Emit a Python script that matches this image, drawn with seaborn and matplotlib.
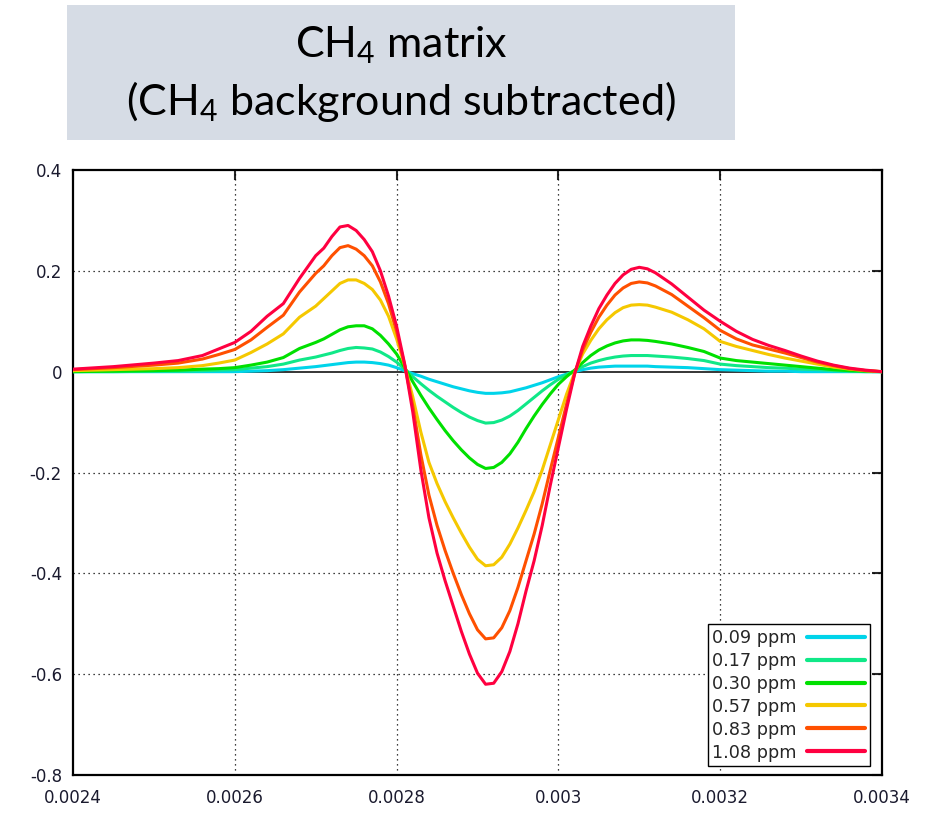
import pandas as pd
import matplotlib.pyplot as plt
import seaborn as sns
from matplotlib.patches import Rectangle

# Dados
x_vals = [0.00240, 0.00245, 0.00250, 0.00253, 0.00256, 0.00258, 0.00260, 0.00262,
          0.00264, 0.00266, 0.00268,
          0.00270, 0.00271, 0.00272, 0.00273, 0.00274, 0.00275, 0.00276, 0.00277,
          0.00278, 0.00279, 0.00280, 0.00281, 0.00282, 0.00283, 0.00284, 0.00285,
          0.00286, 0.00287, 0.00288, 0.00289, 0.00290, 0.00291, 0.00292, 0.00293,
          0.00294, 0.00295, 0.00296, 0.00297, 0.00298, 0.00299, 0.00300, 0.00301,
          0.00302, 0.00303, 0.00304, 0.00305, 0.00306, 0.00307, 0.00308, 0.00309,
          0.00310, 0.00311, 0.00312,
          0.00314, 0.00316, 0.00318, 0.00320, 0.00322, 0.00324, 0.00326, 0.00328,
          0.00330, 0.00332, 0.00334, 0.00336, 0.00338, 0.00340]

ppm_009 = [0.0, 0.0, 0.0, 0.0, 0.0, 0.0, 0.0, 0.001,
           0.002, 0.004, 0.007,
           0.010, 0.012, 0.014, 0.016, 0.018, 0.019, 0.019, 0.018,
           0.016, 0.013, 0.008, 0.002, -0.004, -0.009, -0.015, -0.020,
           -0.025, -0.030, -0.034, -0.038, -0.041, -0.043, -0.043, -0.042,
           -0.040, -0.036, -0.032, -0.027, -0.022, -0.016, -0.010, -0.005,
           0.0, 0.004, 0.007, 0.009, 0.010, 0.011, 0.011, 0.011,
           0.011, 0.011, 0.010,
           0.009, 0.008, 0.006, 0.004, 0.003, 0.002, 0.001, 0.001,
           0.0, 0.0, 0.0, 0.0, 0.0, 0.0]

ppm_017 = [0.0, 0.0, 0.001, 0.001, 0.002, 0.003, 0.004, 0.007,
           0.010, 0.015, 0.023,
           0.029, 0.033, 0.037, 0.042, 0.046, 0.048, 0.047, 0.045,
           0.039, 0.030, 0.019, 0.005, -0.010, -0.024, -0.037, -0.049,
           -0.060, -0.071, -0.081, -0.090, -0.097, -0.102, -0.101, -0.096,
           -0.088, -0.077, -0.064, -0.051, -0.038, -0.026, -0.015, -0.006,
           0.002, 0.010, 0.017, 0.022, 0.026, 0.029, 0.031, 0.032,
           0.032, 0.032, 0.031,
           0.029, 0.026, 0.022, 0.015, 0.012, 0.010, 0.008, 0.007,
           0.005, 0.004, 0.002, 0.001, 0.0, 0.0]

ppm_030 = [0.0, 0.001, 0.002, 0.003, 0.005, 0.006, 0.008, 0.013,
           0.019, 0.028, 0.046,
           0.058, 0.065, 0.074, 0.083, 0.089, 0.091, 0.091, 0.085,
           0.072, 0.055, 0.035, 0.008, -0.020, -0.047, -0.072, -0.095,
           -0.117, -0.137, -0.155, -0.171, -0.184, -0.192, -0.190, -0.180,
           -0.163, -0.140, -0.113, -0.088, -0.065, -0.044, -0.025, -0.010,
           0.003, 0.018, 0.032, 0.043, 0.051, 0.057, 0.061, 0.063,
           0.063, 0.062, 0.060,
           0.055, 0.048, 0.040, 0.027, 0.022, 0.019, 0.016, 0.013,
           0.010, 0.007, 0.004, 0.002, 0.001, 0.0]

ppm_057 = [0.002, 0.004, 0.006, 0.008, 0.012, 0.017, 0.023, 0.038,
           0.055, 0.075, 0.108,
           0.130, 0.145, 0.160, 0.175, 0.182, 0.182, 0.175, 0.163,
           0.142, 0.110, 0.065, 0.012, -0.050, -0.120, -0.180, -0.222,
           -0.258, -0.290, -0.320, -0.348, -0.372, -0.385, -0.383, -0.368,
           -0.342, -0.310, -0.275, -0.238, -0.195, -0.145, -0.095, -0.045,
           -0.002, 0.035, 0.062, 0.085, 0.103, 0.117, 0.127, 0.132,
           0.133, 0.132, 0.128,
           0.118, 0.103, 0.085, 0.060, 0.050, 0.042, 0.034, 0.027,
           0.021, 0.015, 0.009, 0.005, 0.002, 0.0]

ppm_083 = [0.004, 0.008, 0.013, 0.017, 0.025, 0.034, 0.044, 0.063,
           0.088, 0.112, 0.158,
           0.195, 0.210, 0.230, 0.246, 0.250, 0.243, 0.230, 0.210,
           0.178, 0.135, 0.080, 0.013, -0.068, -0.165, -0.245, -0.305,
           -0.355, -0.400, -0.442, -0.480, -0.512, -0.530, -0.528, -0.508,
           -0.474, -0.428, -0.375, -0.322, -0.262, -0.195, -0.130, -0.065,
           -0.004, 0.043, 0.078, 0.108, 0.132, 0.152, 0.166, 0.175,
           0.178, 0.176, 0.170,
           0.153, 0.130, 0.107, 0.082, 0.065, 0.053, 0.045, 0.037,
           0.028, 0.019, 0.012, 0.006, 0.002, 0.0]

ppm_108 = [0.005, 0.010, 0.017, 0.022, 0.032, 0.045, 0.058, 0.080,
           0.110, 0.135, 0.185,
           0.230, 0.245, 0.268, 0.287, 0.290, 0.280, 0.262, 0.238,
           0.200, 0.150, 0.090, 0.015, -0.080, -0.195, -0.290, -0.360,
           -0.415, -0.465, -0.515, -0.560, -0.598, -0.620, -0.618, -0.595,
           -0.555, -0.500, -0.435, -0.375, -0.305, -0.225, -0.150, -0.075,
           -0.005, 0.050, 0.090, 0.125, 0.152, 0.175, 0.192, 0.203,
           0.207, 0.204, 0.196,
           0.174, 0.148, 0.122, 0.100, 0.080, 0.064, 0.052, 0.042,
           0.031, 0.021, 0.013, 0.007, 0.003, 0.0]

labels = ['0.09 ppm', '0.17 ppm', '0.30 ppm', '0.57 ppm', '0.83 ppm', '1.08 ppm']
series = [ppm_009, ppm_017, ppm_030, ppm_057, ppm_083, ppm_108]
colors = ['#00d4ea', '#10e888', '#00e000', '#f5c800', '#ff5000', '#ff0040']

x_ticks = [0.0024, 0.0026, 0.0028, 0.0030, 0.0032, 0.0034]
x_ticklabels = ['0.0024', '0.0026', '0.0028', '0.003', '0.0032', '0.0034']
y_ticks = [0.4, 0.2, 0.0, -0.2, -0.4, -0.6, -0.8]
y_ticklabels = ['0.4', '0.2', '0', '-0.2', '-0.4', '-0.6', '-0.8']

df = pd.concat([pd.DataFrame({'x': x_vals, 'y': s, 'conc': lab})
                for s, lab in zip(series, labels)], ignore_index=True)

# Estilo
sns.set_style("white")
plt.rcParams['font.family'] = ['DejaVu Sans']
plt.rcParams['mathtext.fontset'] = 'custom'
plt.rcParams['mathtext.rm'] = 'Lato'

fig = plt.figure(figsize=(9.36, 8.13), dpi=100)
ax = fig.add_axes([73 / 936, 38 / 813, 809 / 936, 605 / 813])

# Caixa do título
fig.patches.append(Rectangle((67 / 936, 1 - 140 / 813), 668 / 936, 135 / 813,
                             transform=fig.transFigure, facecolor='#d6dce5',
                             edgecolor='none', zorder=0))
fig.text(401 / 936, 1 - 45 / 813, r'CH$_\mathrm{4}$ matrix', family='Lato',
         fontsize=31, color='black', ha='center', va='center')
fig.text(401 / 936, 1 - 101 / 813, r'(CH$_\mathrm{4}$ background subtracted)',
         family='Lato', fontsize=31, color='black', ha='center', va='center')

# Grade e linha do zero
for xv in x_ticks[1:-1]:
    ax.axvline(xv, color='black', lw=0.9, ls=(0, (1, 3)), zorder=1)
for yv in y_ticks[1:-1]:
    if yv != 0:
        ax.axhline(yv, color='black', lw=0.9, ls=(0, (1, 3)), zorder=1)
ax.axhline(0, color='black', lw=1.1, zorder=1)

sns.lineplot(data=df, x='x', y='y', hue='conc', palette=colors, estimator=None,
             sort=False, lw=2.2, ax=ax, zorder=3)
for line in ax.get_lines():
    line.set_solid_joinstyle('round')
    line.set_solid_capstyle('round')

ax.set_xlim(0.0024, 0.0034)
ax.set_ylim(-0.8, 0.4)
ax.set_xticks(x_ticks)
ax.set_xticklabels(x_ticklabels)
ax.set_yticks(y_ticks)
ax.set_yticklabels(y_ticklabels)
ax.set_xlabel('')
ax.set_ylabel('')
ax.tick_params(direction='in', top=True, right=True, length=7, width=1.5,
               labelsize=12, labelcolor='#1a1a2e')
ax.tick_params(axis='x', pad=10)
ax.tick_params(axis='y', pad=8)
for sp in ax.spines.values():
    sp.set_color('black')
    sp.set_linewidth(1.6)

leg = ax.legend(loc='lower right', bbox_to_anchor=(0.985, 0.015), borderaxespad=0,
                markerfirst=False, fontsize=12.7, handlelength=3.3, handletextpad=0.6,
                labelspacing=0.28, borderpad=0.25, fancybox=False, framealpha=1,
                edgecolor='black')
leg.get_frame().set_linewidth(1.0)
for line in leg.get_lines():
    line.set_linewidth(3)

fig.savefig('out.png', dpi=100)
